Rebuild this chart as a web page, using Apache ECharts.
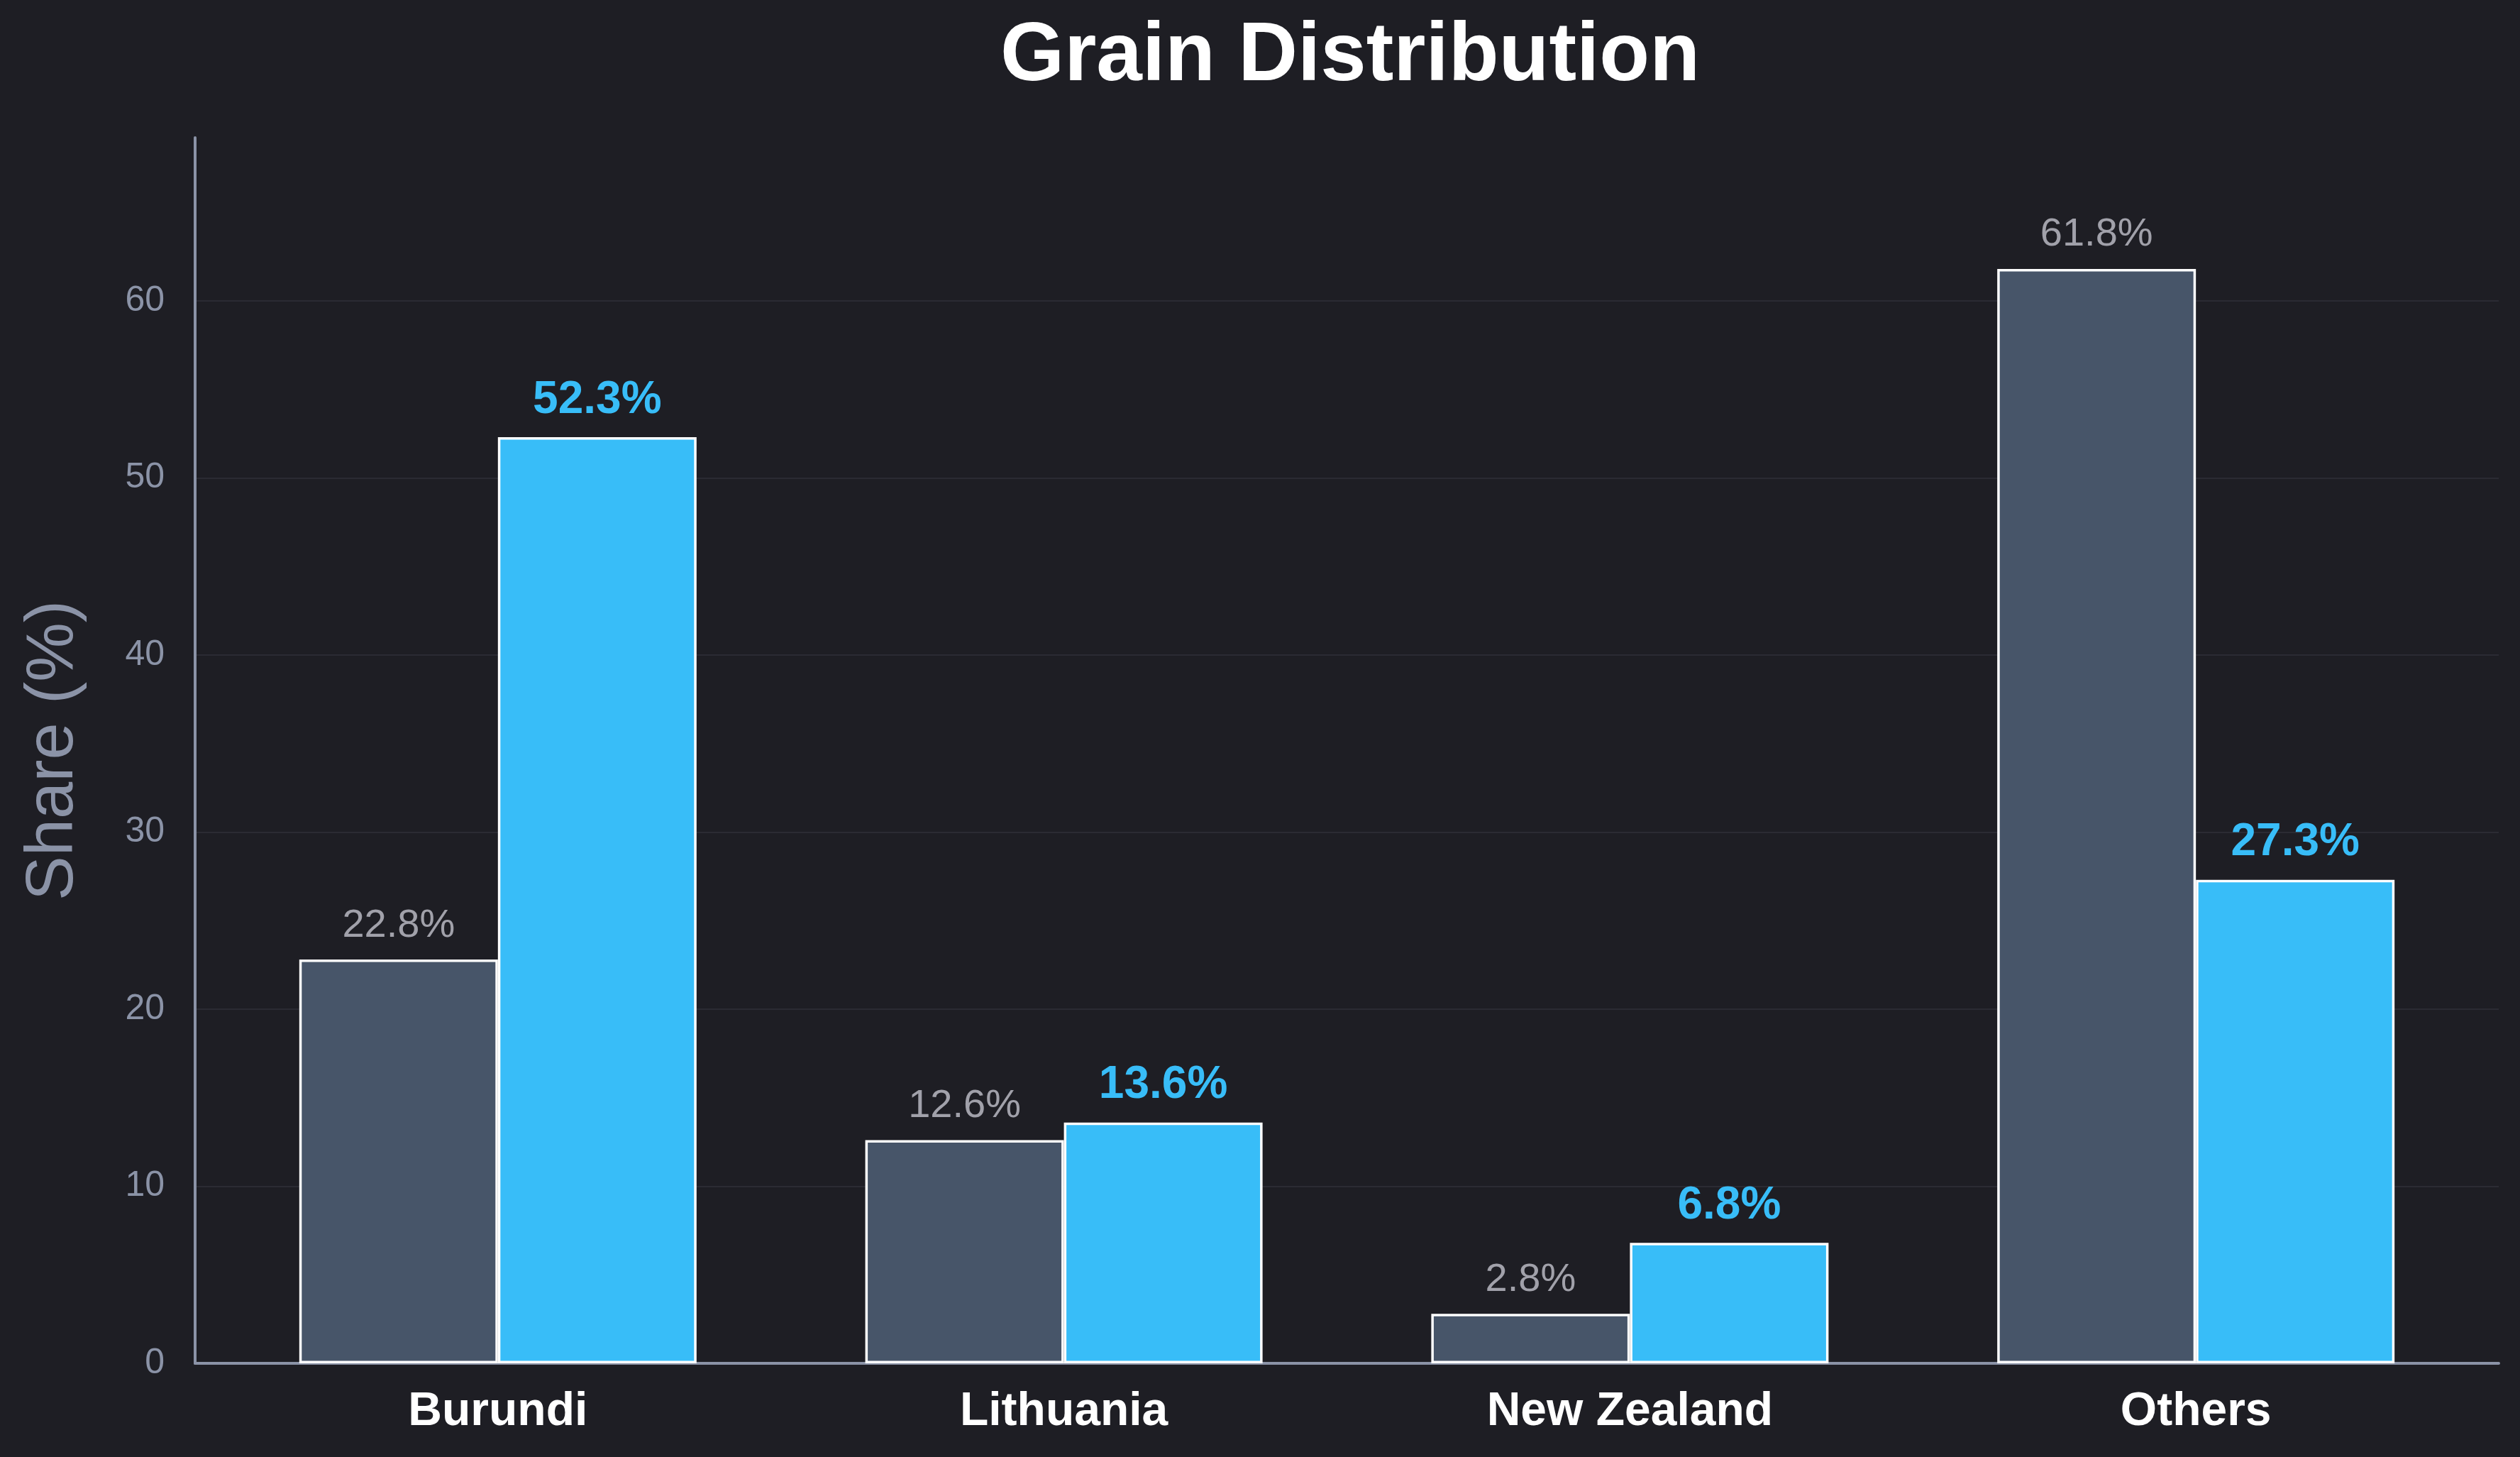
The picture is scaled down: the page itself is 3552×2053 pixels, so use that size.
<!DOCTYPE html>
<html>
<head>
<meta charset="utf-8">
<title>Grain Distribution</title>
<script src="https://cdn.jsdelivr.net/npm/echarts@6/dist/echarts.min.js"></script>
<style>
  html, body { margin: 0; padding: 0; background: #1e1e24; }
  #chart { width: 100vw; height: 100vh; }
</style>
</head>
<body>
<div id="chart"></div>
<script>
"use strict";

// data
const categories = ["Burundi", "Lithuania", "New Zealand", "Others"];
const seriesA = [22.8, 12.6, 2.8, 61.8];   // slate bars
const seriesB = [52.3, 13.6, 6.8, 27.3];   // sky-blue bars
const yTicks = [0, 10, 20, 30, 40, 50, 60];

const FONT = "'Liberation Sans', Arial, Helvetica, sans-serif";
const yMax = Math.max(...seriesA, ...seriesB) * 1.12;

function toPoints(values) {
  return values.map((v, i) => [i, v]);
}

const chart = echarts.init(document.getElementById("chart"), null, {
  renderer: "canvas"
});

chart.setOption({
  backgroundColor: "#1e1e24",
  animation: false,
  title: {
    text: "Grain Distribution",
    left: 1898,
    top: 18,
    textAlign: "center",
    textStyle: {
      color: "#ffffff",
      fontFamily: FONT,
      fontWeight: "bold",
      fontSize: 116
    }
  },
  grid: {
    left: 275,
    right: 30,
    top: 194,
    bottom: 132,
    containLabel: false
  },
  xAxis: {
    type: "value",
    min: -0.535,
    max: 3.535,
    axisLine: {
      show: true,
      onZero: false,
      lineStyle: { color: "#8b93a7", width: 4 }
    },
    axisTick: { show: false },
    splitLine: { show: false },
    axisLabel: {
      customValues: categories.map((c, i) => i),
      formatter: v => categories[v] || "",
      color: "#ffffff",
      fontFamily: FONT,
      fontWeight: "bold",
      fontSize: 66,
      margin: 36
    }
  },
  yAxis: {
    type: "value",
    min: 0,
    max: yMax,
    interval: 10,
    name: "Share (%)",
    nameLocation: "middle",
    nameGap: 152,
    nameTextStyle: {
      color: "#8b93a7",
      fontFamily: FONT,
      fontSize: 94
    },
    axisLine: {
      show: true,
      onZero: false,
      lineStyle: { color: "#8b93a7", width: 4 }
    },
    axisTick: { show: false },
    axisLabel: {
      showMaxLabel: false,
      formatter: v => (yTicks.indexOf(v) >= 0 ? String(v) : ""),
      color: "#8b93a7",
      fontFamily: FONT,
      fontSize: 50,
      margin: 43
    },
    splitLine: {
      show: true,
      showMinLine: false,
      showMaxLine: false,
      lineStyle: { color: "#2b2b33", width: 2 }
    }
  },
  series: [
    {
      type: "bar",
      data: toPoints(seriesA),
      barWidth: 280,
      barGap: "0%",
      itemStyle: {
        color: "#475569",
        borderColor: "#ffffff",
        borderWidth: 3.5
      },
      label: {
        show: true,
        position: "top",
        distance: 20,
        formatter: p => p.value[1].toFixed(1) + "%",
        color: "#a1a1aa",
        fontFamily: FONT,
        fontSize: 56
      }
    },
    {
      type: "bar",
      data: toPoints(seriesB),
      barWidth: 280,
      barGap: "0%",
      itemStyle: {
        color: "#38bdf8",
        borderColor: "#ffffff",
        borderWidth: 3.5
      },
      label: {
        show: true,
        position: "top",
        distance: 20,
        formatter: p => p.value[1].toFixed(1) + "%",
        color: "#38bdf8",
        fontFamily: FONT,
        fontWeight: "bold",
        fontSize: 64
      }
    }
  ]
});

window.onresize = () => {
  chart.resize();
};
</script>
</body>
</html>
